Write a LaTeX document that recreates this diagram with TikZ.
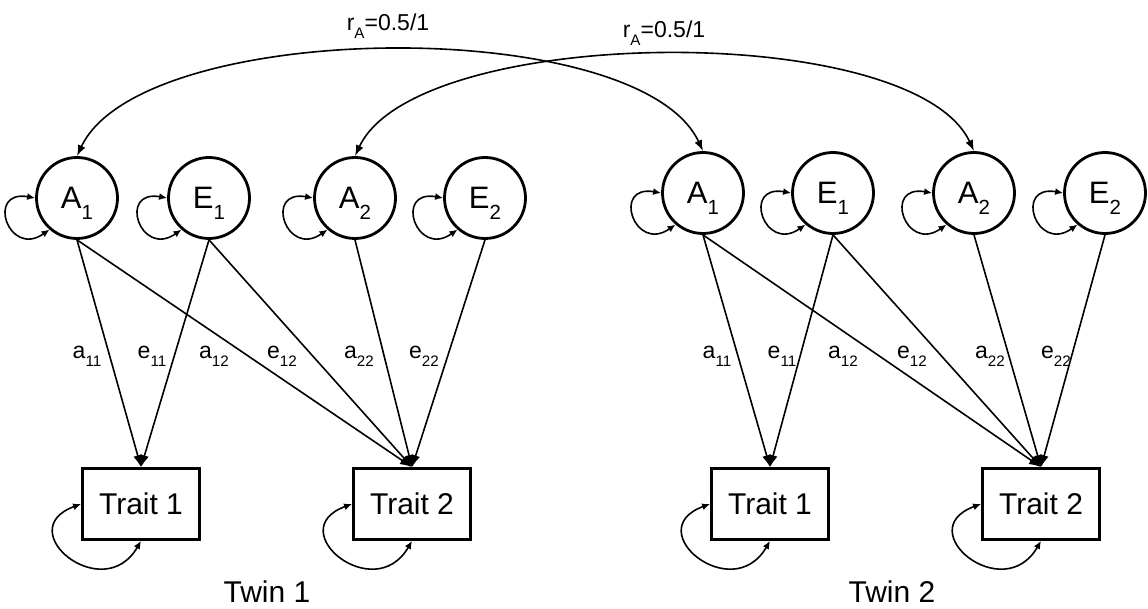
\documentclass[tikz,border=0pt]{standalone}
\usepackage{fontspec}
\setmainfont{Liberation Sans}
\usetikzlibrary{arrows.meta}
\usetikzlibrary{positioning}

\newcommand{\lowsub}[1]{\raisebox{-0.35em}[0pt][0pt]{\scalebox{0.66}{#1}}}

\begin{document}
\begin{tikzpicture}[x=0.5pt,y=-0.5pt,
  latent/.style={draw,circle,line width=1.4pt,minimum size=40.5pt,inner sep=0pt,font=\fontsize{15.5}{18}\selectfont},
  trait/.style={draw,rectangle,line width=1.4pt,minimum width=58.5pt,minimum height=35.5pt,inner sep=0pt,font=\fontsize{15}{18}\selectfont},
  coef/.style={inner sep=0pt,font=\fontsize{11.5}{14}\selectfont},
  twin/.style={inner sep=0pt,font=\fontsize{15}{18}\selectfont},
  load/.style={line width=0.8pt,-{Latex[length=6pt,width=4.5pt]}},
  vari/.style={line width=0.8pt,{Latex[length=4pt,width=3.5pt]}-{Latex[length=4pt,width=3.5pt]}},
  corr/.style={line width=0.8pt,{Latex[length=5.5pt,width=4pt]}-{Latex[length=5.5pt,width=4pt]}}]
  \useasboundingbox (0,0) rectangle (1148,609);

  % twin 1
  \node[latent] (A1-1) at (77,198) {A\lowsub{1}};
  \node[latent] (E1-1) at (209,198) {E\lowsub{1}};
  \node[latent] (A2-1) at (355,198) {A\lowsub{2}};
  \node[latent] (E2-1) at (485,198) {E\lowsub{2}};
  \node[trait] (T1-1) at (141,504) {Trait 1};
  \node[trait] (T2-1) at (412,504) {Trait 2};
  \node[twin] (tw1) at (267,592) {Twin 1};

  % twin 2
  \node[latent] (A1-2) at (703,193) {A\lowsub{1}};
  \node[latent] (E1-2) at (833,193) {E\lowsub{1}};
  \node[latent] (A2-2) at (974,193) {A\lowsub{2}};
  \node[latent] (E2-2) at (1105,193) {E\lowsub{2}};
  \node[trait] (T1-2) at (770,504) {Trait 1};
  \node[trait] (T2-2) at (1041,504) {Trait 2};
  \node[twin] (tw2) at (892,592) {Twin 2};

  % path coefficients
  \node[coef] (a11-1) at (87,352) {a\lowsub{11}};
  \node[coef] (e11-1) at (152,352) {e\lowsub{11}};
  \node[coef] (a12-1) at (214,352) {a\lowsub{12}};
  \node[coef] (e12-1) at (282,352) {e\lowsub{12}};
  \node[coef] (a22-1) at (359,352) {a\lowsub{22}};
  \node[coef] (e22-1) at (424,352) {e\lowsub{22}};
  \node[coef] (a11-2) at (717,352) {a\lowsub{11}};
  \node[coef] (e11-2) at (782,352) {e\lowsub{11}};
  \node[coef] (a12-2) at (843,352) {a\lowsub{12}};
  \node[coef] (e12-2) at (912,352) {e\lowsub{12}};
  \node[coef] (a22-2) at (990,352) {a\lowsub{22}};
  \node[coef] (e22-2) at (1056,352) {e\lowsub{22}};
  \node[coef] (rA1) at (388,22) {r\lowsub{A}=0.5/1};
  \node[coef] (rA2) at (664,29) {r\lowsub{A}=0.5/1};

  \draw[load] (A1-1.south) -- (T1-1.north);
  \draw[load] (E1-1.south) -- (T1-1.north);
  \draw[load] (A1-1.south) -- (T2-1.north);
  \draw[load] (E1-1.south) -- (T2-1.north);
  \draw[load] (A2-1.south) -- (T2-1.north);
  \draw[load] (E2-1.south) -- (T2-1.north);
  \draw[load] (A1-2.south) -- (T1-2.north);
  \draw[load] (E1-2.south) -- (T1-2.north);
  \draw[load] (A1-2.south) -- (T2-2.north);
  \draw[load] (E1-2.south) -- (T2-2.north);
  \draw[load] (A2-2.south) -- (T2-2.north);
  \draw[load] (E2-2.south) -- (T2-2.north);

  % variances
  \draw[vari] (A1-1.180) to[out=170,in=215,looseness=3.7] (A1-1.229);
  \draw[vari] (E1-1.180) to[out=170,in=215,looseness=3.7] (E1-1.229);
  \draw[vari] (A2-1.180) to[out=170,in=215,looseness=3.7] (A2-1.229);
  \draw[vari] (E2-1.180) to[out=170,in=215,looseness=3.7] (E2-1.229);
  \draw[vari] (A1-2.180) to[out=170,in=215,looseness=3.7] (A1-2.229);
  \draw[vari] (E1-2.180) to[out=170,in=215,looseness=3.7] (E1-2.229);
  \draw[vari] (A2-2.180) to[out=170,in=215,looseness=3.7] (A2-2.229);
  \draw[vari] (E2-2.180) to[out=170,in=215,looseness=3.7] (E2-2.229);
  \draw[vari] (T1-1.west) to[out=200,in=240,looseness=2.75] (T1-1.south);
  \draw[vari] (T2-1.west) to[out=200,in=240,looseness=2.75] (T2-1.south);
  \draw[vari] (T1-2.west) to[out=200,in=240,looseness=2.75] (T1-2.south);
  \draw[vari] (T2-2.west) to[out=200,in=240,looseness=2.75] (T2-2.south);

  % twin correlations
  \draw[corr] (A1-1.north) to[out=65,in=115,looseness=0.62] (A1-2.north);
  \draw[corr] (A2-1.north) to[out=65,in=115,looseness=0.6] (A2-2.north);
\end{tikzpicture}
\end{document}
